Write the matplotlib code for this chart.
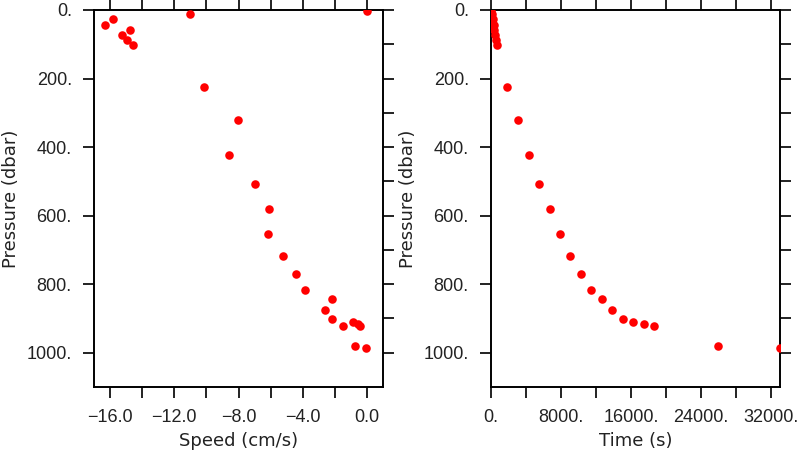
import matplotlib.pyplot as plt
import numpy as np
from matplotlib.ticker import FuncFormatter

plt.rcParams['font.family'] = ['Liberation Sans', 'DejaVu Sans']

# left panel: speed vs pressure
speed = [-0.02, -11.05, -15.84, -16.31, -14.76, -15.26, -14.96, -14.57,
         -10.16, -8.06, -8.60, -6.98, -6.13, -6.18, -5.20, -4.39, -3.83,
         -2.20, -2.61, -2.20, -1.49, -0.87, -0.53, -0.45, -0.76, -0.06]
speed_pres = [2, 11.6, 26, 43.7, 58, 72, 88, 103,
              224, 321, 424, 508, 582, 655, 718, 771, 817,
              844, 875, 901, 922, 911, 916, 923, 980, 985.5]

# right panel: time vs pressure
time_s = [0, 100, 200, 300, 400, 500, 600, 700,
          1867, 3086, 4305, 5524, 6705, 7886, 9067, 10286, 11467,
          12648, 13867, 15086, 16267, 17486, 18667, 25905, 33029]
time_pres = [2, 11.6, 26, 43.7, 58, 72, 88, 103,
             224, 321, 424, 508, 582, 655, 718, 771, 817,
             844, 875, 901, 911, 917, 923, 980, 985.5]

p_major = np.arange(0, 1001, 200)
p_minor = np.arange(100, 1001, 200)

fig = plt.figure(figsize=(8, 4.5), dpi=100)
ax1 = fig.add_axes([0.1175, 0.14, 0.36125, 0.8378])
ax2 = fig.add_axes([0.61375, 0.14, 0.36125, 0.8378])

lab_font = dict(fontsize=13, color='#222222', family='DejaVu Sans')


def style(ax):
    for s in ax.spines.values():
        s.set_linewidth(1.4)
    ax.set_yticks(p_major)
    ax.set_yticks(p_minor, minor=True)
    ax.yaxis.set_major_formatter(FuncFormatter(lambda v, _: '%d.' % v))
    ax.set_ylim(1100, 0)
    ax.tick_params(which='both', direction='out', length=8, width=1.4,
                   top=True, bottom=True, right=True, labelsize=13,
                   colors='#222222')
    ax.tick_params(axis='x', pad=8)
    ax.tick_params(axis='y', pad=8)
    ax.tick_params(which='minor', left=False)
    ax.set_ylabel('Pressure (dbar)', labelpad=5, **lab_font)


ax1.scatter(speed, speed_pres, s=38, color='#ff0000', zorder=3, linewidths=0)
ax1.set_xlim(-17, 1)
ax1.set_xticks(np.arange(-16, 1, 4))
ax1.set_xticks(np.arange(-14, 0, 4), minor=True)
ax1.xaxis.set_major_formatter(
    FuncFormatter(lambda v, _: ('%.1f' % v).replace('-', '\u2212')))
ax1.set_xlabel('Speed (cm/s)', labelpad=4, **lab_font)
style(ax1)

ax2.scatter(time_s, time_pres, s=38, color='#ff0000', zorder=3, linewidths=0)
ax2.set_xlim(0, 33029)
ax2.set_xticks(np.arange(0, 32001, 8000))
ax2.set_xticks(np.arange(4000, 32001, 8000), minor=True)
ax2.xaxis.set_major_formatter(FuncFormatter(lambda v, _: '%d.' % v))
ax2.set_xlabel('Time (s)', labelpad=4, **lab_font)
style(ax2)

fig.savefig('out.png', dpi=100)
